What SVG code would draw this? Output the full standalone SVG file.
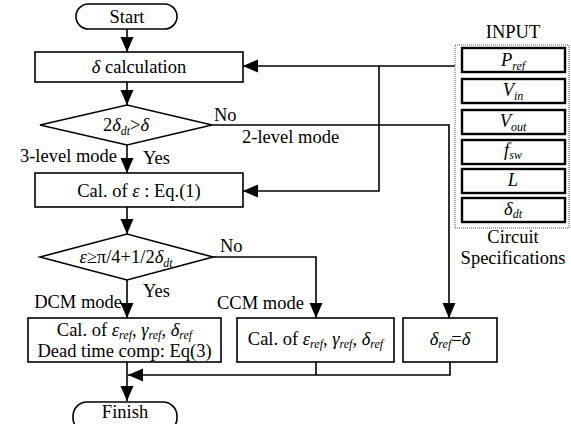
<svg xmlns="http://www.w3.org/2000/svg" width="571" height="424" viewBox="0 0 571 424" font-family="Liberation Serif, Times New Roman, serif">
<defs>
<marker id="ah" markerUnits="userSpaceOnUse" markerWidth="16" markerHeight="14" refX="15" refY="6.5" orient="auto">
<path d="M0,0 L15,6.5 L0,13 z" fill="#000"/>
</marker>
<style>
text{font-family:'Liberation Serif',Tinos,'Times New Roman',serif;font-size:18.5px;fill:#000}
.c{text-anchor:middle}
.e{text-anchor:end}
.i{font-style:italic}
.s{font-size:12px;font-style:italic}
.box{fill:#fff;stroke:#000;stroke-width:1.6}
.ib{fill:#fff;stroke:#000;stroke-width:2.4}
.ln{fill:none;stroke:#000;stroke-width:1.6}
.ar{fill:none;stroke:#000;stroke-width:1.6;marker-end:url(#ah)}
</style>
</defs>
<g id="connectors">
<path class="ar" d="M127,29 V52"/>
<path class="ar" d="M127,82 V105"/>
<path class="ar" d="M127,145 V173"/>
<path class="ar" d="M127,207 V234"/>
<path class="ar" d="M127,280 V318"/>
<path class="ar" d="M127,362 V401"/>
<path class="ar" d="M212,125 H449 V318"/>
<path class="ar" d="M213,257 H316 V318"/>
<path class="ar" d="M455,66 H243"/>
<path class="ar" d="M379,66 V191 H243"/>
<path class="ln" d="M316,362 V375"/>
<path class="ar" d="M450,362 V375 H128"/>
</g>
<g id="start">
<rect x="76" y="4" width="101" height="25" rx="12.5" class="box"/>
<text x="127" y="23" class="c">Start</text>
</g>
<g id="delta-calc">
<rect x="35" y="52" width="208" height="30" class="box"/>
<text x="139" y="73" class="c"><tspan class="i">δ</tspan> calculation</text>
</g>
<g id="decision1">
<polygon points="40,125 127,105 212,125 127,145" class="box"/>
<text x="126" y="131" class="c">2<tspan class="i">δ</tspan><tspan class="s" dy="4">dt</tspan><tspan dy="-4">&gt;</tspan><tspan class="i">δ</tspan></text>
</g>
<g id="labels">
<text x="214" y="121">No</text>
<text x="242" y="143">2-level mode</text>
<text x="117" y="162" class="e">3-level mode</text>
<text x="143" y="164">Yes</text>
<text x="220" y="252">No</text>
<text x="143" y="297">Yes</text>
<text x="122" y="308" class="e">DCM mode</text>
<text x="217" y="309">CCM mode</text>
</g>
<g id="cal-eps">
<rect x="35" y="173" width="208" height="34" class="box"/>
<text x="139" y="197" class="c">Cal. of <tspan class="i">ε</tspan> : Eq.(1)</text>
</g>
<g id="decision2">
<polygon points="40,257 127,234 213,257 127,280" class="box"/>
<text x="126" y="263" class="c"><tspan class="i">ε</tspan>≥π/4+1/2<tspan class="i">δ</tspan><tspan class="s" dy="4">dt</tspan></text>
</g>
<g id="dcm">
<rect x="28" y="318" width="193" height="44" class="box"/>
<text x="124.5" y="336" class="c">Cal. of <tspan class="i">ε</tspan><tspan class="s" dy="3">ref</tspan><tspan dy="-3">, </tspan><tspan class="i">γ</tspan><tspan class="s" dy="3">ref</tspan><tspan dy="-3">, </tspan><tspan class="i">δ</tspan><tspan class="s" dy="3">ref</tspan></text>
<text x="124.5" y="357" class="c">Dead time comp: Eq(3)</text>
</g>
<g id="ccm">
<rect x="237" y="318" width="157" height="44" class="box"/>
<text x="315.5" y="345" class="c">Cal. of <tspan class="i">ε</tspan><tspan class="s" dy="3">ref</tspan><tspan dy="-3">, </tspan><tspan class="i">γ</tspan><tspan class="s" dy="3">ref</tspan><tspan dy="-3">, </tspan><tspan class="i">δ</tspan><tspan class="s" dy="3">ref</tspan></text>
</g>
<g id="dref">
<rect x="403" y="318" width="94" height="44" class="box"/>
<text x="450" y="345" class="c"><tspan class="i">δ</tspan><tspan class="s" dy="3">ref</tspan><tspan dy="-3">=</tspan><tspan class="i">δ</tspan></text>
</g>
<g id="finish">
<rect x="73" y="402" width="104" height="30" rx="14" class="box"/>
<text x="125" y="418" class="c">Finish</text>
</g>
<g id="input">
<text x="513" y="38" class="c">INPUT</text>
<rect x="455" y="45" width="114" height="183" fill="none" stroke="#555" stroke-width="1" stroke-dasharray="1,1"/>
<rect x="462" y="48" width="103" height="24" class="ib"/>
<text x="513" y="66" class="c"><tspan class="i">P</tspan><tspan class="s" dy="4">ref</tspan></text>
<rect x="462" y="79" width="103" height="24" class="ib"/>
<text x="513" y="96" class="c"><tspan class="i">V</tspan><tspan class="s" dy="4">in</tspan></text>
<rect x="462" y="110" width="103" height="24" class="ib"/>
<text x="513" y="127" class="c"><tspan class="i">V</tspan><tspan class="s" dy="4">out</tspan></text>
<rect x="462" y="140" width="103" height="24" class="ib"/>
<text x="513" y="156" class="c"><tspan class="i">f</tspan><tspan class="s" dy="3">sw</tspan></text>
<rect x="462" y="169" width="103" height="24" class="ib"/>
<text x="513" y="186" class="c i">L</text>
<rect x="462" y="198" width="103" height="24" class="ib"/>
<text x="513" y="215" class="c"><tspan class="i">δ</tspan><tspan class="s" dy="3">dt</tspan></text>
<text x="513" y="243" class="c">Circuit</text>
<text x="513" y="264" class="c">Specifications</text>
</g>
</svg>
